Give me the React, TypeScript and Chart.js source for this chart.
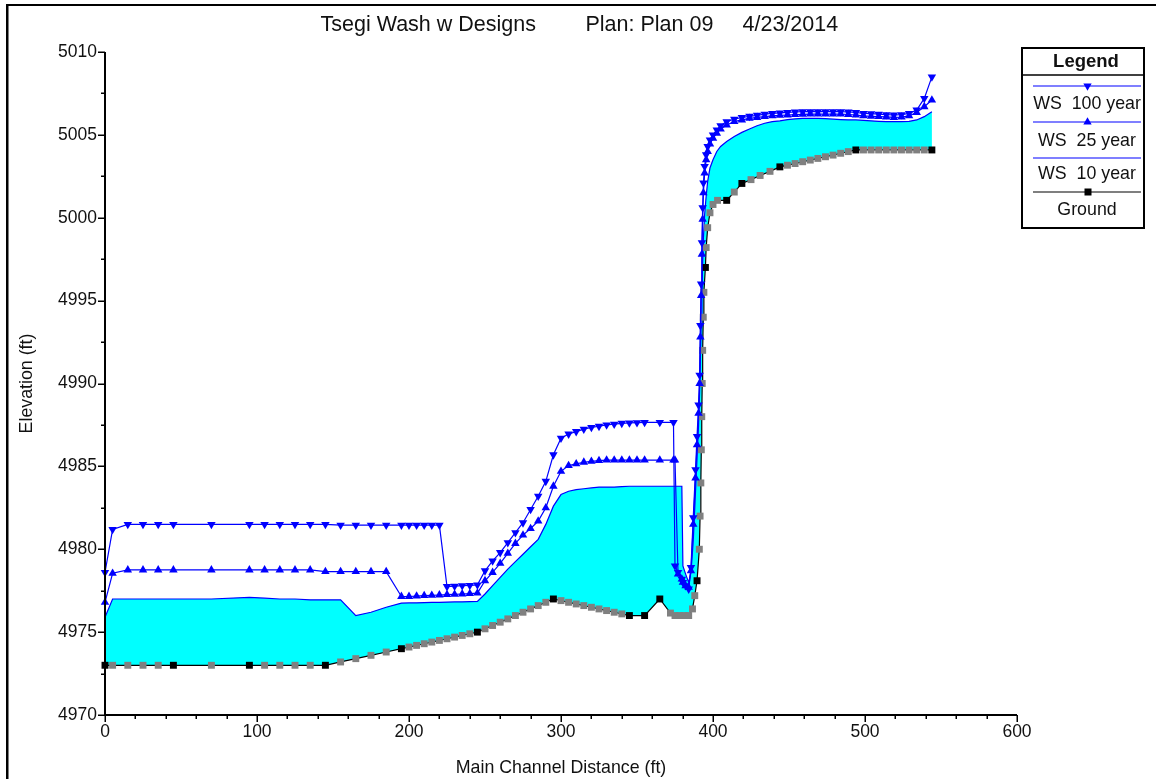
import React, { useEffect, useRef } from 'react';
import { Chart, registerables } from 'chart.js';

Chart.register(...registerables);

// ---------------- data ----------------
const titleParts = ['Tsegi Wash w Designs', 'Plan: Plan 09', '4/23/2014'];
const xAxisTitle = 'Main Channel Distance (ft)';
const yAxisTitle = 'Elevation (ft)';
const legendTitle = 'Legend';
const legendLabels = ['WS  100 year', 'WS  25 year', 'WS  10 year', 'Ground'];

const xTickValues = [0, 100, 200, 300, 400, 500, 600];
const yTickValues = [4970, 4975, 4980, 4985, 4990, 4995, 5000, 5005, 5010];
const xMinorStep = 20;
const yMinorStep = 2.5;

// Ground profile
const groundDist = [
  0, 5, 15, 25, 35, 45, 70, 95, 105, 115, 125, 135, 145,
  155, 165, 175, 185, 195,
  200, 205, 210, 215, 220, 225, 230, 235, 240, 245,
  250, 255, 260, 265, 270, 275, 280, 285, 290, 295,
  300, 305, 310, 315, 320, 325, 330, 335, 340, 345,
  355, 365, 372, 375, 378, 381, 384, 386.5, 388, 389.5,
  391, 391.5, 392, 392.3, 392.6, 392.9, 393.2, 393.6, 394, 395,
  395.5, 396.5, 398, 400, 403, 409,
  414, 419, 425, 431, 437.5, 444,
  449, 454, 459, 464, 469, 474, 479, 484, 489, 494,
  499, 504, 509, 514, 519, 524, 529, 534, 539, 544,
];
const groundElev = [
  4973, 4973, 4973, 4973, 4973, 4973, 4973, 4973, 4973, 4973, 4973, 4973, 4973,
  4973.2, 4973.4, 4973.6, 4973.8, 4974,
  4974.1, 4974.2, 4974.3, 4974.4, 4974.5, 4974.6, 4974.7, 4974.8, 4974.9, 4975,
  4975.2, 4975.4, 4975.6, 4975.8, 4976.0, 4976.2, 4976.4, 4976.6, 4976.8, 4977,
  4976.9, 4976.8, 4976.7, 4976.6, 4976.5, 4976.4, 4976.3, 4976.2, 4976.1, 4976,
  4976, 4977, 4976.15, 4976, 4976, 4976, 4976, 4976.4, 4977.2, 4978.1,
  4980, 4982, 4984, 4986, 4988, 4990, 4992, 4994, 4995.5, 4997,
  4998.2, 4999.4, 5000.3, 5000.8, 5001.05, 5001.05,
  5001.55, 5002.07, 5002.3, 5002.55, 5002.8, 5003.07,
  5003.17, 5003.27, 5003.38, 5003.48, 5003.58, 5003.68, 5003.78, 5003.89, 5003.99, 5004.09,
  5004.09, 5004.09, 5004.09, 5004.09, 5004.09, 5004.09, 5004.09, 5004.09, 5004.09, 5004.09,
];
// surveyed (non-interpolated) cross sections
const surveyedXS = [0, 45, 95, 145, 195, 245, 295, 345, 355, 365, 389.5, 395, 409, 419, 444, 494, 544];

// Water surface profiles (shared stations)
const wsDist = [
  0, 5, 15, 25, 35, 45, 70, 95, 105, 115, 125, 135, 145, 155, 165, 175, 185,
  195, 200, 205, 210, 215, 220, 225, 230, 235, 240, 245,
  250, 255, 260, 265, 270, 275, 280, 285, 290, 295,
  300, 305, 310, 315, 320, 325, 330, 335, 340, 345, 350, 355, 365, 374,
  375, 377, 379.5, 380.2, 382, 384,
  385.5, 387, 388.5, 389.5, 390.5, 391.2, 391.7, 392.2, 392.7, 393.2, 393.7, 394.5, 395.5, 396.5, 398, 400, 402.5, 405, 409,
  414, 419, 424, 429, 434, 439, 444, 449, 454, 459, 464, 469, 474, 479, 484, 489, 494, 499, 504, 509, 514, 519, 524, 529, 534, 539, 544,
];
const ws100 = [
  4978.6, 4981.2, 4981.5, 4981.5, 4981.5, 4981.5, 4981.5, 4981.5, 4981.5, 4981.5, 4981.5, 4981.5, 4981.5, 4981.45, 4981.45, 4981.45, 4981.45,
  4981.45, 4981.45, 4981.45, 4981.45, 4981.45, 4981.45, 4977.75, 4977.77, 4977.8, 4977.82, 4977.85,
  4978.7, 4979.3, 4979.8, 4980.4, 4981.0, 4981.6, 4982.4, 4983.2, 4984.1, 4985.7,
  4986.7, 4986.95, 4987.1, 4987.25, 4987.35, 4987.42, 4987.5, 4987.55, 4987.6, 4987.62, 4987.64, 4987.65, 4987.65, 4987.65,
  4979.0, 4978.6, 4978.2, 4978.0, 4977.8, 4977.6,
  4978.9, 4981.9, 4984.8, 4986.8, 4988.7, 4990.5, 4993.5, 4996.0, 4998.5, 5000.6, 5002.1, 5003.1, 5003.8, 5004.3, 5004.7, 5005.0, 5005.3, 5005.55, 5005.8,
  5005.95, 5006.05, 5006.12, 5006.18, 5006.25, 5006.3, 5006.33, 5006.36, 5006.38, 5006.4, 5006.4, 5006.4, 5006.4, 5006.4, 5006.4, 5006.38, 5006.35, 5006.3, 5006.28, 5006.25, 5006.22, 5006.2, 5006.22, 5006.3, 5006.5, 5007.2, 5008.5,
];
const ws25 = [
  4976.8, 4978.55, 4978.75, 4978.75, 4978.75, 4978.75, 4978.75, 4978.75, 4978.75, 4978.75, 4978.75, 4978.75, 4978.65, 4978.65, 4978.65, 4978.65, 4978.65,
  4977.15, 4977.15, 4977.17, 4977.2, 4977.22, 4977.24, 4977.26, 4977.28, 4977.3, 4977.32, 4977.35,
  4978.1, 4978.6, 4979.15, 4979.75, 4980.35, 4980.85, 4981.25, 4981.7, 4982.5, 4983.8,
  4984.7, 4985.05, 4985.15, 4985.25, 4985.3, 4985.35, 4985.38, 4985.38, 4985.38, 4985.38, 4985.38, 4985.38, 4985.38, 4985.38,
  4985.38, 4978.5, 4978.2, 4978.0, 4977.8, 4977.7,
  4978.7, 4981.5, 4984.3, 4986.3, 4988.2, 4990.0, 4992.8, 4995.3, 4997.8, 4999.9, 5001.5, 5002.7, 5003.5, 5004.0, 5004.45, 5004.8, 5005.1, 5005.35, 5005.6,
  5005.8, 5005.9, 5006.0, 5006.05, 5006.1, 5006.15, 5006.18, 5006.2, 5006.22, 5006.24, 5006.25, 5006.25, 5006.25, 5006.25, 5006.25, 5006.23, 5006.2, 5006.15, 5006.12, 5006.1, 5006.08, 5006.05, 5006.07, 5006.15, 5006.35, 5006.7, 5007.1,
];
const ws10 = [
  4975.9, 4977.0, 4977.0, 4977.0, 4977.0, 4977.0, 4977.0, 4977.1, 4977.05, 4977.0, 4977.0, 4976.95, 4976.95, 4976.95, 4976.0, 4976.2, 4976.5,
  4976.75, 4976.76, 4976.77, 4976.78, 4976.79, 4976.8, 4976.81, 4976.82, 4976.83, 4976.84, 4976.85,
  4977.3, 4977.8, 4978.3, 4978.8, 4979.25, 4979.7, 4980.15, 4980.6, 4981.5, 4982.6,
  4983.3, 4983.5, 4983.6, 4983.65, 4983.7, 4983.75, 4983.75, 4983.75, 4983.78, 4983.8, 4983.8, 4983.8, 4983.8, 4983.8,
  4983.8, 4983.8, 4983.8, 4979.0, 4978.5, 4978.0,
  4978.6, 4980.5, 4983.5, 4985.5, 4987.5, 4989.5, 4991.5, 4993.5, 4995.5, 4997.3, 4998.8, 5000.2, 5001.3, 5002.2, 5003.0, 5003.5, 5004.0, 5004.3, 5004.6,
  5004.9, 5005.15, 5005.35, 5005.55, 5005.7, 5005.8, 5005.85, 5005.92, 5005.97, 5006.0, 5006.0, 5006.0, 5005.98, 5005.95, 5005.92, 5005.9, 5005.9, 5005.88, 5005.85, 5005.82, 5005.8, 5005.8, 5005.8, 5005.82, 5005.9, 5006.1, 5006.4,
];

// ---------------- styling ----------------
const FONT = '"Liberation Sans", Arial, sans-serif';
const BLUE = '#0000FF';
const CYAN = '#00FFFF';
const GRAY = '#808080';
const BLACK = '#000000';
const W = 1156;
const H = 779;

function triangle(ctx: CanvasRenderingContext2D, cx: number, cy: number, r: number, down: boolean) {
  const s = r * Math.sin(Math.PI / 3);
  ctx.beginPath();
  if (down) {
    ctx.moveTo(cx, cy + r);
    ctx.lineTo(cx - s, cy - r / 2);
    ctx.lineTo(cx + s, cy - r / 2);
  } else {
    ctx.moveTo(cx, cy - r);
    ctx.lineTo(cx - s, cy + r / 2);
    ctx.lineTo(cx + s, cy + r / 2);
  }
  ctx.closePath();
  ctx.fill();
}

const decorPlugin = {
  id: 'decor',
  afterDraw(chart: any) {
    const ctx: CanvasRenderingContext2D = chart.ctx;
    const xs = chart.scales.x;
    const ys = chart.scales.y;
    const { left, right, top, bottom } = chart.chartArea;
    ctx.save();

    // outer frame
    ctx.fillStyle = BLACK;
    ctx.fillRect(6, 4, 2.5, H);
    ctx.fillRect(6, 4, W, 2);

    // axis lines
    ctx.strokeStyle = BLACK;
    ctx.lineWidth = 2;
    ctx.beginPath();
    ctx.moveTo(left, top);
    ctx.lineTo(left, bottom);
    ctx.lineTo(right, bottom);
    ctx.stroke();

    // tick marks
    ctx.lineWidth = 1.5;
    const yMin = yTickValues[0];
    const yMax = yTickValues[yTickValues.length - 1];
    for (let v = yMin; v <= yMax + 1e-9; v += yMinorStep) {
      const py = Math.round(ys.getPixelForValue(v)) + 0.25;
      const major = yTickValues.some((t) => Math.abs(t - v) < 1e-6);
      const len = major ? 7 : 4;
      ctx.beginPath();
      ctx.moveTo(left, py);
      ctx.lineTo(left - len, py);
      ctx.stroke();
    }
    const xMin = xTickValues[0];
    const xMax = xTickValues[xTickValues.length - 1];
    for (let v = xMin; v <= xMax + 1e-9; v += xMinorStep) {
      const px = Math.round(xs.getPixelForValue(v)) + 0.25;
      const major = xTickValues.some((t) => Math.abs(t - v) < 1e-6);
      const len = major ? 7 : 4;
      ctx.beginPath();
      ctx.moveTo(px, bottom);
      ctx.lineTo(px, bottom + len);
      ctx.stroke();
    }

    // title
    ctx.fillStyle = '#111';
    ctx.font = `21.5px ${FONT}`;
    ctx.textBaseline = 'alphabetic';
    ctx.textAlign = 'left';
    ctx.fillText(titleParts[0], 320.5, 31);
    ctx.fillText(titleParts[1], 585.5, 31);
    ctx.fillText(titleParts[2], 742.5, 31);

    // axis titles
    ctx.font = `17.8px ${FONT}`;
    ctx.textAlign = 'center';
    ctx.textBaseline = 'middle';
    ctx.fillText(xAxisTitle, (left + right) / 2, 768);
    ctx.save();
    ctx.translate(27, (top + bottom) / 2);
    ctx.rotate(-Math.PI / 2);
    ctx.fillText(yAxisTitle, 0, 0);
    ctx.restore();

    // legend
    const lx0 = 1022, lx1 = 1144, ly0 = 48, ly1 = 228;
    ctx.fillStyle = '#FFFFFF';
    ctx.fillRect(lx0, ly0, lx1 - lx0, ly1 - ly0);
    ctx.strokeStyle = BLACK;
    ctx.lineWidth = 2;
    ctx.strokeRect(lx0, ly0, lx1 - lx0, ly1 - ly0);
    ctx.lineWidth = 1.5;
    ctx.beginPath();
    ctx.moveTo(lx0, 75);
    ctx.lineTo(lx1, 75);
    ctx.stroke();

    ctx.fillStyle = '#111';
    ctx.font = `bold 18.5px ${FONT}`;
    ctx.textAlign = 'center';
    ctx.textBaseline = 'middle';
    ctx.fillText(legendTitle, 1086, 62);

    const sampleY = [86, 122, 158, 192];
    const labelY = [104.5, 141, 174, 210];
    const colors = [BLUE, BLUE, BLUE, BLACK];
    for (let i = 0; i < legendLabels.length; i++) {
      ctx.strokeStyle = colors[i];
      ctx.lineWidth = 1.2;
      ctx.beginPath();
      ctx.moveTo(1033, sampleY[i]);
      ctx.lineTo(1141, sampleY[i]);
      ctx.stroke();
      ctx.fillStyle = colors[i];
      if (i === 0) triangle(ctx, 1087.5, sampleY[i], 4.8, true);
      if (i === 1) triangle(ctx, 1087.5, sampleY[i], 4.8, false);
      if (i === 3) ctx.fillRect(1084.5, sampleY[i] - 3.5, 7, 7);
      ctx.fillStyle = '#111';
      ctx.font = `17.8px ${FONT}`;
      ctx.fillText(legendLabels[i], 1087, labelY[i]);
    }
    ctx.restore();
  },
};

export default function App() {
  const ref = useRef<HTMLCanvasElement | null>(null);

  useEffect(() => {
    if (!ref.current) return;
    const toPts = (xsArr: number[], ysArr: number[]) => xsArr.map((x, i) => ({ x, y: ysArr[i] }));
    const groundColors = groundDist.map((d) => (surveyedXS.some((s) => Math.abs(s - d) < 1e-6) ? BLACK : GRAY));

    const chart = new Chart(ref.current, {
      type: 'line',
      data: {
        datasets: [
          {
            label: legendLabels[0],
            data: toPts(wsDist, ws100),
            borderColor: BLUE,
            borderWidth: 1.2,
            pointStyle: 'triangle',
            pointRotation: 180,
            pointRadius: 4.9,
            pointBorderWidth: 0,
            pointBackgroundColor: BLUE,
            fill: false,
            clip: false,
          } as any,
          {
            label: legendLabels[1],
            data: toPts(wsDist, ws25),
            borderColor: BLUE,
            borderWidth: 1.2,
            pointStyle: 'triangle',
            pointRadius: 4.9,
            pointBorderWidth: 0,
            pointBackgroundColor: BLUE,
            fill: false,
            clip: false,
          } as any,
          {
            label: legendLabels[3],
            data: toPts(groundDist, groundElev),
            borderColor: BLACK,
            borderWidth: 1.2,
            pointStyle: 'rect',
            pointRadius: 4.9,
            pointBorderWidth: 0,
            pointBackgroundColor: groundColors,
            fill: false,
            clip: false,
          } as any,
          {
            label: legendLabels[2],
            data: toPts(wsDist, ws10),
            borderColor: BLUE,
            borderWidth: 1.2,
            backgroundColor: CYAN,
            pointRadius: 0,
            fill: 2,
            clip: false,
          } as any,
        ],
      },
      options: {
        responsive: false,
        animation: false,
        devicePixelRatio: 1,
        events: [],
        layout: { padding: { left: 0, top: 52, right: W - 1017, bottom: 0 } },
        plugins: {
          legend: { display: false },
          title: { display: false },
          tooltip: { enabled: false },
        },
        scales: {
          x: {
            type: 'linear',
            min: xTickValues[0],
            max: xTickValues[xTickValues.length - 1],
            grid: { display: false, drawTicks: false },
            border: { display: false },
            afterBuildTicks: (s: any) => {
              s.ticks = xTickValues.map((v) => ({ value: v }));
            },
            afterFit: (s: any) => {
              s.height = H - 715;
            },
            ticks: {
              padding: 7,
              maxRotation: 0,
              autoSkip: false,
              color: '#111',
              font: { family: FONT, size: 17.5 },
              callback: (v: any) => String(v),
            },
          },
          y: {
            type: 'linear',
            min: yTickValues[0],
            max: yTickValues[yTickValues.length - 1],
            grid: { display: false, drawTicks: false },
            border: { display: false },
            afterBuildTicks: (s: any) => {
              s.ticks = yTickValues.map((v) => ({ value: v }));
            },
            afterFit: (s: any) => {
              s.width = 105;
            },
            ticks: {
              padding: 8,
              autoSkip: false,
              color: '#111',
              font: { family: FONT, size: 17.5 },
              callback: (v: any) => String(v),
            },
          },
        },
      } as any,
      plugins: [decorPlugin],
    });
    return () => chart.destroy();
  }, []);

  return (
    <div style={{ position: 'absolute', left: 0, top: 0, width: W, height: H, background: '#fff' }}>
      <canvas ref={ref} width={W} height={H} style={{ display: 'block' }} />
    </div>
  );
}
